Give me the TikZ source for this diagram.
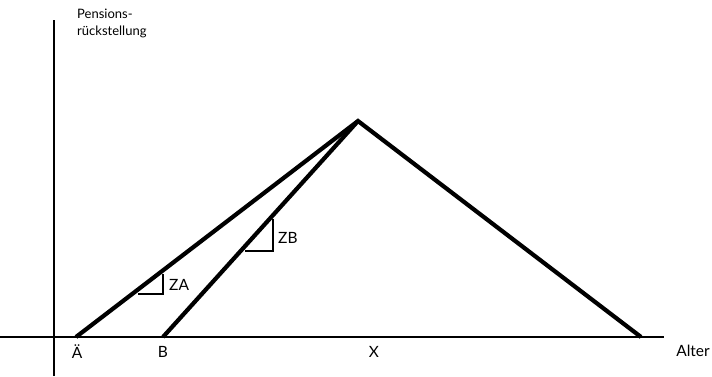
\documentclass[tikz,border=0pt]{standalone}
\usepackage{fontspec}
\setmainfont{Lato}
\begin{document}
\begin{tikzpicture}[x=1pt,y=-1pt,
  axis/.style={line width=1.3pt,black},
  curve/.style={line width=4.2pt,black,line join=miter},
  slope/.style={line width=1.3pt,black},
  lbl/.style={font=\fontsize{15.5}{18}\selectfont,inner sep=0pt}]
\useasboundingbox (0,0) rectangle (712,376);
% axes
\coordinate (yb) at (54,376);
\coordinate (yt) at (54,20);
\coordinate (xl) at (0,337);
\coordinate (xr) at (664,337);
\draw[axis] (yb) -- (yt);
\draw[axis] (xl) -- (xr);
% points
\coordinate (A) at (76,337);
\coordinate (B) at (163,337);
\coordinate (P) at (358,121);
\coordinate (R) at (641,337);
\draw[curve] (A) -- (P) -- (R);
\draw[curve] (B) -- (P);
% slope triangles
\coordinate (za1) at (138,294);
\coordinate (za2) at (163,294);
\coordinate (za3) at (163,274);
\draw[slope] (za1) -- (za2) -- (za3);
\coordinate (zb1) at (245,251);
\coordinate (zb2) at (273,251);
\coordinate (zb3) at (273,219);
\draw[slope] (zb1) -- (zb2) -- (zb3);
% labels
\node[lbl,anchor=west] (zal) at (169,285) {ZA};
\node[lbl,anchor=west] (zbl) at (278,238) {ZB};
\node[lbl] (al) at (77,352) {Ä};
\node[lbl] (bl) at (163,352) {B};
\node[lbl] (xlb) at (374,352) {X};
\node[lbl,anchor=east] (alter) at (710,351) {Alter};
\node[lbl,anchor=north west,align=left,font=\fontsize{13}{16.5}\selectfont] (pens) at (77,9) {Pensions-\\rückstellung};
\end{tikzpicture}
\end{document}
